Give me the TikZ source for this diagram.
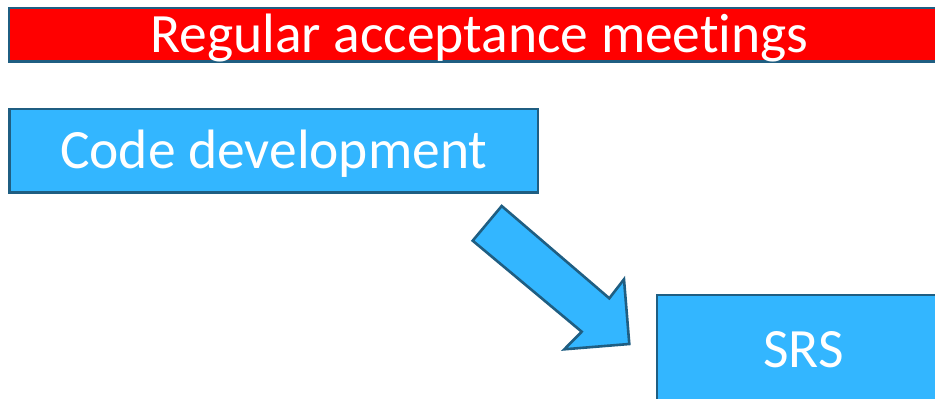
\documentclass[tikz,border=0pt]{standalone}
\usepackage{fontspec}
\setmainfont{Carlito}[Ligatures=NoCommon]
\definecolor{bannerred}{RGB}{255,0,0}
\definecolor{boxblue}{RGB}{51,182,255}
\definecolor{edgeblue}{RGB}{31,94,130}
\tikzset{
  slidebox/.style={draw=edgeblue,line width=2.6pt,fill=boxblue,text=white,
    inner sep=0pt,text height=35.4pt,text depth=0pt,
    font=\fontsize{55.5}{60}\selectfont},
  blockarrow/.style={draw=edgeblue,line width=2.6pt,fill=boxblue,line join=miter}
}

\begin{document}
\begin{tikzpicture}[x=1pt,y=-1pt]
  \useasboundingbox (0,0) rectangle (935,399);
  \node[slidebox,fill=bannerred,minimum width=941pt,minimum height=53.5pt]
    (meetings) at (479.5,34.75) {Regular acceptance meetings};
  \node[slidebox,minimum width=528.5pt,minimum height=83.5pt]
    (code) at (273.75,150.75) {Code development};
  \node[slidebox,minimum width=293pt,minimum height=110pt]
    (srs) at (803.5,350) {SRS};
  % block arrow from code to SRS
  \draw[blockarrow] (501.7,206) -- (609.3,298.3) -- (624,279.3) -- (629.3,344)
    -- (564.3,349.3) -- (581.7,331.7) -- (472.7,240.7) -- cycle;
\end{tikzpicture}
\end{document}
